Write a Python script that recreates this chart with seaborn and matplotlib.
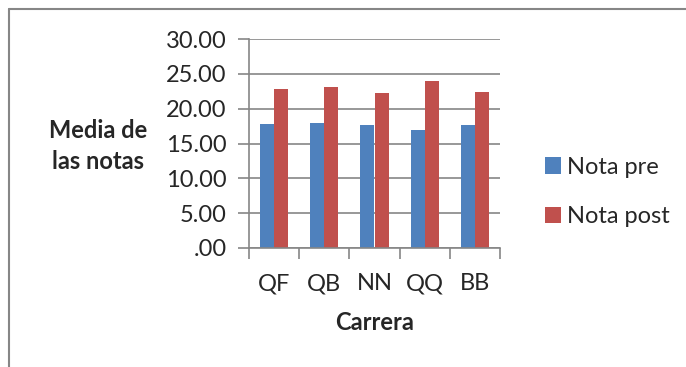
import matplotlib
matplotlib.use("Agg")
import matplotlib.pyplot as plt
from matplotlib.lines import Line2D
import seaborn as sns
import pandas as pd
from matplotlib.ticker import FuncFormatter, FixedLocator

carreras = ["QF", "QB", "NN", "QQ", "BB"]
nota_pre = [17.76, 17.90, 17.70, 16.98, 17.70]
nota_post = [22.87, 23.07, 22.25, 23.97, 22.39]
series = ["Nota pre", "Nota post"]
y_ticks = [0, 5, 10, 15, 20, 25, 30]

df = pd.DataFrame({
    "Carrera": carreras * 2,
    "Nota": nota_pre + nota_post,
    "Serie": [series[0]] * len(carreras) + [series[1]] * len(carreras),
})

sns.set_theme(style="white")
plt.rcParams["font.family"] = ["Lato", "DejaVu Sans"]

W, H = 686, 367
FS = 17
fig = plt.figure(figsize=(W / 100, H / 100), dpi=100)
ax = fig.add_axes([249 / W, 1 - 248 / H, (500 - 249) / W, (248 - 39) / H])

grey = "#868686"
sns.barplot(data=df, x="Carrera", y="Nota", hue="Serie", order=carreras,
            hue_order=series, palette=["#4F81BD", "#C0504D"], width=0.56,
            gap=0, saturation=1, ax=ax, legend=True, edgecolor="none")

ax.set_xlim(-0.5, len(carreras) - 0.5)
ax.set_ylim(0, 30)
ax.set_yticks(y_ticks)
ax.yaxis.set_major_formatter(FuncFormatter(lambda v, p: ".00" if v == 0 else f"{v:.2f}"))
ax.yaxis.grid(True, color=grey, linewidth=1.2)
ax.set_axisbelow(True)

for s in ["top", "right"]:
    ax.spines[s].set_visible(False)
for s in ["left", "bottom"]:
    ax.spines[s].set_color(grey)
    ax.spines[s].set_linewidth(1.2)

ax.tick_params(axis="y", length=8, width=1.2, color=grey, labelsize=FS, pad=8,
               left=True)
ax.xaxis.set_minor_locator(FixedLocator([i - 0.5 for i in range(len(carreras) + 1)]))
ax.tick_params(axis="x", which="major", length=0, labelsize=FS, pad=18)
ax.tick_params(axis="x", which="minor", length=8, width=1.2, color=grey,
               bottom=True, direction="out")

ax.set_xlabel("Carrera", fontsize=FS, fontweight="bold", labelpad=12)
ax.set_ylabel("")
fig.text(98 / W, 1 - 146 / H, "Media de\nlas notas", ha="center", va="center",
         fontsize=FS, fontweight="bold", linespacing=1.45)

handles, labels = ax.get_legend_handles_labels()
ax.legend(handles, labels, loc="center left", bbox_to_anchor=(533 / W, 1 - 192 / H),
          bbox_transform=fig.transFigure, frameon=False, fontsize=FS,
          handlelength=0.7, handleheight=0.7, handletextpad=0.25,
          labelspacing=1.2, borderpad=0)

# outer frame of the chart area
fig.add_artist(Line2D([8.5 / W, 8.5 / W], [0, 1 - 9 / H], color=grey, linewidth=1.5,
                      transform=fig.transFigure))
fig.add_artist(Line2D([8.5 / W, 1], [1 - 9 / H, 1 - 9 / H], color=grey, linewidth=1.5,
                      transform=fig.transFigure))

fig.savefig("out.png", dpi=100)
